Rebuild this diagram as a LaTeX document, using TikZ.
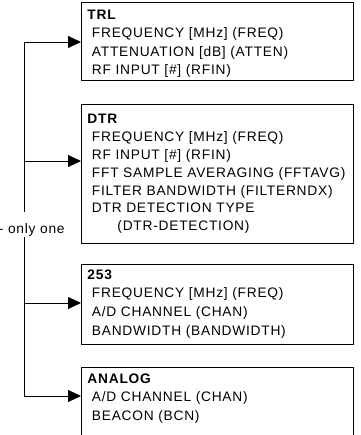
\documentclass[tikz,border=0pt]{standalone}
\usepackage{fontspec}
\setmainfont{Liberation Sans}[LetterSpace=5.5]
\usetikzlibrary{arrows.meta}
\def\boxL{81}
\def\boxW{272}
\def\trunkX{24}

\begin{document}
\begin{tikzpicture}[x=1bp, y=-1bp, line width=0.9bp,
                    >={Triangle[length=13bp,width=12bp]},
                    font=\fontsize{13.8}{18.7}\selectfont,
                    panel/.style={draw, anchor=north west, inner sep=0pt,
                                  minimum width=\boxW bp},
                    lines/.style={anchor=north west, align=left, inner sep=0pt}]
\useasboundingbox (0,0) rectangle (360,435);
\clip (0,0) rectangle (360,435);

% =================== receiver panels ===================
\node[panel, minimum height=78bp] (trl) at (\boxL,2) {};
\node[lines] (trl-txt) at (87,9.1)
  {\textbf{TRL}\\
   \hspace*{4.5bp}FREQUENCY [MHz] (FREQ)\\
   \hspace*{4.5bp}ATTENUATION [dB] (ATTEN)\\
   \hspace*{4.5bp}RF INPUT [\#] (RFIN)};

\node[panel, minimum height=139.3bp] (dtr) at (\boxL,104) {};
\node[lines, font=\fontsize{13.8}{18}\selectfont] (dtr-txt) at (87,113.4)
  {\textbf{DTR}\\
   \hspace*{4.5bp}FREQUENCY [MHz] (FREQ)\\
   \hspace*{4.5bp}RF INPUT [\#] (RFIN)\\
   \hspace*{4.5bp}FFT SAMPLE AVERAGING (FFTAVG)\\
   \hspace*{4.5bp}FILTER BANDWIDTH (FILTERNDX)\\
   \hspace*{4.5bp}DTR DETECTION TYPE\\
   \hspace*{30bp}(DTR-DETECTION)};

\node[panel, minimum height=80bp] (r253) at (\boxL,264) {};
\node[lines] (r253-txt) at (87,269.1)
  {\textbf{253}\\
   \hspace*{4.5bp}FREQUENCY [MHz] (FREQ)\\
   \hspace*{4.5bp}A/D CHANNEL (CHAN)\\
   \hspace*{4.5bp}BANDWIDTH (BANDWIDTH)};

\node[panel, minimum height=110bp] (analog) at (\boxL,367) {};
\node[lines] (analog-txt) at (87,373.1)
  {\textbf{ANALOG}\\
   \hspace*{4.5bp}A/D CHANNEL (CHAN)\\
   \hspace*{4.5bp}BEACON (BCN)};

% =================== choice trunk ===================
\coordinate (c-trl)    at (\trunkX,42);
\coordinate (c-dtr)    at (\trunkX,161);
\coordinate (c-r253)   at (\trunkX,303);
\coordinate (c-analog) at (\trunkX,396);

\draw (c-trl) -- (c-analog);
\foreach \n in {trl,dtr,r253,analog}
  \draw[->] (c-\n) -- (c-\n -| \n.west);

% label sits over the trunk and breaks it
\node[fill=white, anchor=base west, inner sep=0pt,
      text height=21bp, text depth=4bp] (onlyone) at (-1.5,233) {- only one};

\end{tikzpicture}
\end{document}
